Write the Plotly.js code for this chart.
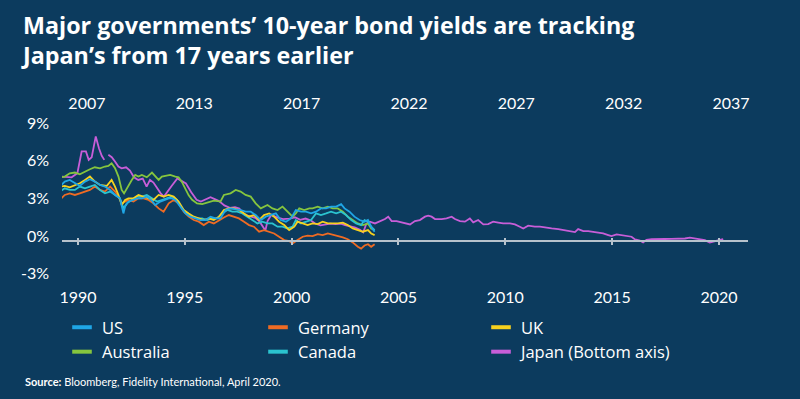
<!DOCTYPE html>
<html>
<head>
<meta charset="utf-8">
<script src="https://cdn.plot.ly/plotly-3.0.1.min.js"></script>
<style>
html,body{margin:0;padding:0;background:#0c3b5e;}
#chart{width:800px;height:399px;}
</style>
</head>
<body>
<div id="chart"></div>
<script>
// ---- Data (years as decimal; others plotted on top axis, Japan on bottom axis) ----
const bottomTicks = [1990, 1995, 2000, 2005, 2010, 2015, 2020];
const topTickVals = [2007, 2012, 2017, 2022, 2027, 2032, 2037];
const topTickText = ["2007", "2013", "2017", "2022", "2027", "2032", "2037"];
const yTickVals = [-3, 0, 3, 6, 9];
const yTickText = ["-3%", "0%", "3%", "6%", "9%"];

const usYears = [2005.74,2005.97,2006.20,2006.44,2006.67,2006.91,2007.14,2007.37,2007.61,2007.84,2008.08,2008.31,2008.54,2008.70,2008.78,2008.93,2009.09,2009.32,2009.56,2009.79,2010.03,2010.18,2010.42,2010.65,2010.81,2010.96,2011.12,2011.35,2011.59,2011.82,2012.05,2012.29,2012.52,2012.76,2012.99,2013.22,2013.46,2013.69,2013.93,2014.16,2014.39,2014.63,2014.86,2015.10,2015.33,2015.56,2015.80,2016.03,2016.27,2016.50,2016.73,2016.97,2017.20,2017.44,2017.67,2017.90,2018.14,2018.37,2018.61,2018.84,2019.00,2019.23,2019.46,2019.70,2019.93,2020.09,2020.24,2020.40];
const usYields = [4.35,4.75,4.88,4.61,4.40,4.75,4.93,4.75,4.48,4.35,4.08,3.68,3.41,2.21,2.75,3.15,3.28,3.41,3.41,3.55,3.23,2.88,3.15,3.28,3.41,3.41,3.28,2.75,2.21,1.95,1.81,1.68,1.68,1.95,1.81,1.81,2.48,2.61,2.53,2.48,2.35,2.35,2.08,1.68,1.95,2.08,2.21,1.68,1.55,1.81,2.48,2.35,2.35,2.21,2.35,2.61,2.61,2.75,2.75,2.95,2.61,2.35,1.95,1.68,1.55,1.68,1.15,0.75];

const deYears = [2005.74,2005.97,2006.20,2006.44,2006.67,2006.91,2007.14,2007.37,2007.61,2007.84,2008.08,2008.31,2008.47,2008.62,2008.78,2008.93,2009.17,2009.40,2009.64,2009.87,2010.10,2010.34,2010.57,2010.81,2011.04,2011.27,2011.51,2011.74,2011.98,2012.21,2012.44,2012.68,2012.91,2013.15,2013.38,2013.61,2013.85,2014.08,2014.32,2014.55,2014.78,2015.02,2015.25,2015.49,2015.72,2015.95,2016.19,2016.42,2016.58,2016.81,2017.05,2017.28,2017.51,2017.75,2017.98,2018.22,2018.45,2018.68,2018.92,2019.15,2019.38,2019.62,2019.77,2019.93,2020.09,2020.24,2020.40];
const deYields = [3.28,3.68,3.81,3.68,3.81,3.95,4.08,4.35,4.08,3.95,4.35,3.95,3.55,3.01,3.15,3.28,3.15,3.41,3.41,3.28,3.01,2.61,2.35,3.01,3.28,3.01,2.35,1.95,1.68,1.55,1.28,1.55,1.41,1.68,1.89,2.08,1.95,1.81,1.55,1.28,1.15,0.75,0.88,0.75,0.61,0.35,0.08,0.00,-0.19,0.08,0.35,0.43,0.40,0.56,0.48,0.61,0.50,0.45,0.30,0.15,-0.10,-0.45,-0.60,-0.35,-0.25,-0.45,-0.25];

const ukYears = [2005.74,2005.97,2006.20,2006.44,2006.67,2006.91,2007.14,2007.37,2007.61,2007.92,2008.15,2008.31,2008.47,2008.62,2008.78,2008.93,2009.17,2009.40,2009.64,2009.87,2010.10,2010.34,2010.57,2010.81,2011.04,2011.27,2011.51,2011.74,2011.98,2012.21,2012.44,2012.68,2012.91,2013.15,2013.38,2013.61,2013.85,2014.08,2014.32,2014.55,2014.78,2015.02,2015.25,2015.49,2015.72,2015.95,2016.19,2016.42,2016.66,2016.81,2017.05,2017.28,2017.51,2017.75,2017.98,2018.22,2018.45,2018.68,2018.92,2019.15,2019.38,2019.62,2019.85,2020.09,2020.24,2020.40];
const ukYields = [4.35,4.40,4.29,4.48,4.61,4.88,5.15,4.75,4.48,4.40,4.88,4.35,3.68,2.88,3.28,3.41,3.41,3.68,3.55,3.41,3.28,3.68,3.55,3.68,3.55,3.15,2.48,2.21,1.95,1.81,1.68,1.81,1.68,1.95,2.48,2.61,2.61,2.48,2.21,1.95,2.08,1.68,2.08,2.21,1.95,1.55,1.28,0.88,1.15,1.55,1.41,1.28,1.41,1.36,1.55,1.41,1.41,1.41,1.47,1.28,1.01,0.88,0.75,0.88,0.61,0.48];

const auYears = [2005.74,2005.97,2006.20,2006.44,2006.67,2006.91,2007.14,2007.37,2007.61,2007.84,2008.00,2008.15,2008.31,2008.47,2008.62,2008.73,2008.86,2009.09,2009.25,2009.40,2009.56,2009.79,2010.03,2010.18,2010.34,2010.49,2010.65,2010.88,2011.12,2011.27,2011.43,2011.59,2011.74,2011.90,2012.13,2012.37,2012.60,2012.91,2013.22,2013.38,2013.69,2013.93,2014.16,2014.39,2014.63,2014.86,2015.10,2015.41,2015.64,2015.88,2016.11,2016.34,2016.58,2016.73,2016.89,2017.12,2017.36,2017.51,2017.75,2017.98,2018.22,2018.45,2018.68,2018.92,2019.15,2019.38,2019.62,2019.85,2020.09,2020.24,2020.40];
const auYields = [5.07,5.15,5.41,5.47,5.33,5.55,5.73,5.89,5.81,5.95,6.00,6.21,5.81,5.15,4.08,3.81,4.21,4.88,5.28,5.15,5.28,5.09,5.47,5.15,4.88,5.15,5.20,5.28,5.15,5.09,4.70,4.15,3.65,3.30,3.00,2.95,3.07,3.23,3.15,3.68,3.81,4.08,3.95,3.68,3.55,3.01,2.61,2.88,2.61,2.48,2.75,2.35,1.95,2.21,2.61,2.48,2.61,2.61,2.75,2.61,2.75,2.61,2.61,2.35,1.95,1.68,1.41,1.28,1.40,1.00,0.88];

const caYears = [2005.74,2005.97,2006.20,2006.44,2006.67,2006.91,2007.14,2007.37,2007.61,2007.84,2008.08,2008.31,2008.54,2008.70,2008.86,2009.09,2009.32,2009.56,2009.79,2010.03,2010.26,2010.49,2010.73,2010.96,2011.20,2011.43,2011.66,2011.90,2012.13,2012.37,2012.60,2012.83,2013.07,2013.30,2013.54,2013.77,2014.00,2014.24,2014.47,2014.71,2014.94,2015.17,2015.41,2015.64,2015.88,2016.11,2016.34,2016.58,2016.73,2016.97,2017.20,2017.44,2017.67,2017.90,2018.14,2018.37,2018.61,2018.84,2019.07,2019.31,2019.54,2019.77,2019.93,2020.09,2020.24,2020.40];
const caYields = [3.95,4.21,4.08,4.08,4.35,4.21,4.35,4.48,4.08,3.81,3.95,3.68,3.41,2.61,3.01,3.28,3.55,3.55,3.68,3.41,3.15,3.28,3.41,3.55,3.28,2.61,2.21,1.95,1.81,1.81,1.68,1.81,1.81,2.21,2.48,2.35,2.35,2.21,1.95,1.68,1.41,1.55,1.41,1.41,1.15,1.15,1.01,1.15,1.68,1.41,1.55,1.68,2.21,2.08,2.21,2.35,2.21,2.35,2.08,1.68,1.41,1.28,1.68,1.55,1.15,0.88];

const jpYears = [1989.24,1989.70,1989.97,1990.17,1990.37,1990.50,1990.64,1990.83,1990.98,1991.11,1991.23,1991.30,1991.42,1991.58,1991.73,1991.89,1992.04,1992.25,1992.43,1992.62,1992.82,1993.03,1993.21,1993.37,1993.53,1993.68,1993.87,1994.02,1994.23,1994.38,1994.65,1994.85,1995.05,1995.30,1995.55,1995.75,1995.95,1996.20,1996.40,1996.60,1996.85,1997.10,1997.35,1997.55,1997.80,1998.05,1998.30,1998.50,1998.70,1998.77,1998.87,1999.05,1999.30,1999.60,1999.90,2000.15,2000.40,2000.65,2000.90,2001.10,2001.35,2001.60,2001.80,2002.05,2002.30,2002.50,2002.75,2002.95,2003.20,2003.35,2003.50,2003.66,2003.90,2004.15,2004.37,2004.52,2004.68,2004.91,2005.15,2005.38,2005.54,2005.77,2006.00,2006.24,2006.39,2006.55,2006.71,2007.02,2007.25,2007.49,2007.64,2007.88,2008.11,2008.34,2008.50,2008.73,2008.97,2009.20,2009.43,2009.67,2009.90,2010.22,2010.45,2010.68,2010.84,2011.07,2011.38,2011.62,2011.85,2012.17,2012.48,2012.79,2013.10,2013.26,2013.41,2013.65,2013.88,2014.11,2014.35,2014.58,2014.82,2014.97,2015.21,2015.44,2015.68,2015.91,2016.07,2016.30,2016.45,2016.61,2016.85,2017.16,2017.47,2017.78,2018.09,2018.41,2018.64,2018.87,2019.19,2019.34,2019.57,2019.73,2019.89,2020.04,2020.20];
const jpYields = [5.15,5.09,5.41,7.15,7.15,6.48,6.69,8.35,7.41,6.80,6.48,null,6.88,6.69,6.35,5.95,5.81,5.89,5.63,5.09,4.88,4.99,4.35,4.88,4.67,4.29,3.81,3.55,4.08,4.40,5.00,4.80,4.60,3.90,3.30,3.15,3.30,3.50,3.35,3.20,2.85,2.65,2.70,2.60,2.10,1.95,1.85,1.55,1.00,0.85,1.60,2.10,1.90,1.75,1.80,1.90,1.70,1.80,1.65,1.40,1.25,1.35,1.40,1.35,1.40,1.28,1.20,1.10,0.90,0.70,1.40,1.55,1.41,1.60,1.76,1.95,1.60,1.60,1.50,1.41,1.33,1.60,1.68,1.95,2.03,1.95,1.76,1.76,1.81,1.95,1.76,1.60,1.55,1.81,1.49,1.68,1.33,1.36,1.55,1.48,1.41,1.41,1.33,1.15,1.01,1.23,1.15,1.15,1.07,1.01,0.96,0.88,0.75,0.72,0.96,0.80,0.80,0.75,0.70,0.61,0.48,0.40,0.53,0.48,0.42,0.35,0.13,0.05,-0.11,0.11,0.16,0.19,0.17,0.18,0.18,0.21,0.27,0.20,0.14,0.08,-0.11,-0.03,0.05,0.13,0.16];

const seriesNames = ["US", "Germany", "UK", "Australia", "Canada", "Japan (Bottom axis)"];
const seriesColors = ["#1fa6e6", "#ef6b23", "#f7d11e", "#86c53e", "#2bc3cf", "#c85ed8"];

// ---- Traces ----
const bg = "#0c3b5e";
const axisLineColor = "#b7c2cc";
const fontFam = "Lato, Roboto, 'Open Sans', sans-serif";
const wideFam = "'Open Sans', Lato, sans-serif";

function lineTrace(x, y, i, xaxis) {
  return {type: "scatter", mode: "lines", x: x, y: y, xaxis: xaxis, yaxis: "y",
    name: seriesNames[i], showlegend: false, connectgaps: false,
    line: {color: seriesColors[i], width: 1.8}, hoverinfo: "skip"};
}
const traces = [
  lineTrace(jpYears, jpYields, 5, "x"),
  lineTrace(deYears, deYields, 1, "x2"),
  lineTrace(auYears, auYields, 3, "x2"),
  lineTrace(caYears, caYields, 4, "x2"),
  lineTrace(ukYears, ukYields, 2, "x2"),
  lineTrace(usYears, usYields, 0, "x2")
];
// legend entries (short thick dash symbols, three columns)
const legendOf = ["legend", "legend2", "legend3", "legend", "legend2", "legend3"];
for (let i = 0; i < seriesNames.length; i++) {
  traces.push({type: "scatter", mode: "markers", x: [null], y: [null],
    xaxis: i < 3 ? "x3" : "x4", yaxis: "y",
    name: seriesNames[i], legend: legendOf[i], showlegend: true,
    marker: {symbol: "line-ew", size: 14, color: seriesColors[i],
      line: {width: 4, color: seriesColors[i]}}});
}

const xRange = [1989.25, 2021.36];
const tickFont = {family: fontFam, size: 16, color: "#ffffff"};
const legendBase = {orientation: "v", xref: "container", yref: "container",
  xanchor: "left", yanchor: "top", bgcolor: "rgba(0,0,0,0)",
  font: {family: wideFam, size: 16.5, color: "#ffffff"}, itemwidth: 30, tracegroupgap: 0};

const layout = {
  width: 800, height: 399,
  paper_bgcolor: bg, plot_bgcolor: bg,
  margin: {l: 62, r: 52, t: 122, b: 114, pad: 0, autoexpand: false},
  title: {text: "Major governments’ 10-year bond yields are tracking<br>Japan’s from 17 years earlier",
    xref: "container", yref: "container", x: 23/800, xanchor: "left", y: 0.915, yanchor: "top",
    font: {family: wideFam, size: 23.3, color: "#ffffff", weight: 700}},
  xaxis: {range: xRange, tickvals: bottomTicks, ticks: "", showline: false, showgrid: false,
    zeroline: false, tickfont: tickFont, anchor: "y", side: "bottom", ticklabelstandoff: 1,
    automargin: false},
  xaxis2: {range: [2005.84, 2037.79], overlaying: "x", side: "top", anchor: "y",
    tickvals: topTickVals, ticktext: topTickText, ticks: "", showline: false, showgrid: false,
    zeroline: false, tickfont: tickFont, ticklabelstandoff: 9, automargin: false},
  xaxis3: {range: xRange, overlaying: "x", anchor: "free", position: 3.5/13,
    tickvals: bottomTicks, showticklabels: false, ticks: "outside", ticklen: 3, tickwidth: 2,
    tickcolor: axisLineColor, showline: true, linecolor: axisLineColor, linewidth: 2,
    showgrid: false, zeroline: false},
  xaxis4: {range: xRange, overlaying: "x", anchor: "free", position: 3.5/13,
    tickvals: bottomTicks, showticklabels: false, ticks: "inside", ticklen: 3, tickwidth: 2,
    tickcolor: axisLineColor, showline: false, showgrid: false, zeroline: false},
  yaxis: {range: [-3.5, 9.5], tickvals: yTickVals, ticktext: yTickText, ticks: "",
    showline: false, showgrid: false, zeroline: false, tickfont: tickFont,
    ticklabelshift: -5, ticklabelstandoff: 12, automargin: false},
  legend: Object.assign({}, legendBase, {x: 62/800, y: 1 - 310/399}),
  legend2: Object.assign({}, legendBase, {x: 258/800, y: 1 - 310/399}),
  legend3: Object.assign({}, legendBase, {x: 481/800, y: 1 - 310/399}),
  annotations: [{xref: "paper", yref: "paper", x: (23 - 62)/686, y: (285 - 381)/163,
    xanchor: "left", yanchor: "middle", showarrow: false,
    text: "<b>Source:</b> Bloomberg, Fidelity International, April 2020.",
    font: {family: fontFam, size: 11, color: "#ffffff"}}],
  showlegend: true
};

Plotly.newPlot("chart", traces, layout, {displayModeBar: false, staticPlot: true});
</script>
</body>
</html>
